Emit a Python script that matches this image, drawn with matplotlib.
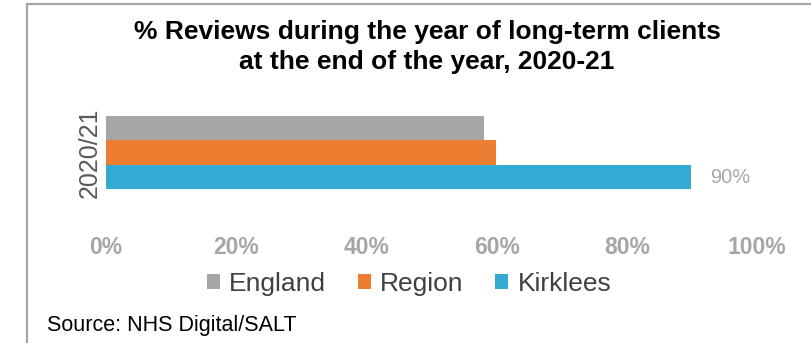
import matplotlib
matplotlib.use("Agg")
import matplotlib.pyplot as plt
from matplotlib.patches import Patch, Rectangle

plt.rcParams['font.family'] = ['Liberation Sans', 'DejaVu Sans']

years = ["2020/21"]
series = ["England", "Region", "Kirklees"]
values = [0.581, 0.599, 0.899]
colours = ["#a5a5a5", "#ed7d31", "#32aad2"]
xticks = [0, 0.2, 0.4, 0.6, 0.8, 1.0]
xtick_labels = ["0%", "20%", "40%", "60%", "80%", "100%"]

W, H = 811, 343
fig = plt.figure(figsize=(W / 100, H / 100), dpi=100)
fig.patch.set_facecolor("white")

# outer chart frame (only left and top are visible in the crop)
fig.patches.append(Rectangle((27 / W, -0.2), 1.2, 1.2 - 4 / H,
                             transform=fig.transFigure, fill=False,
                             edgecolor="#a6a6a6", linewidth=1.6))

ax = fig.add_axes([106 / W, (H - 205) / H, 651 / W, 105 / H])

bar_h = 0.234
offsets = [bar_h, 0, -bar_h]
for name, val, col, off in zip(series, values, colours, offsets):
    ax.barh(0 + off, val, height=bar_h, color=col, label=name)

# data label only on Kirklees
ax.text(values[2] + 0.029, offsets[2], f"{values[2]:.0%}", va="center", ha="left",
        fontsize=14.4, color="#a6a6a6")

ax.set_xlim(0, 1.0)
ax.set_ylim(-0.5, 0.5)
ax.set_xticks(xticks)
ax.set_xticklabels(xtick_labels, fontsize=16.5, fontweight="bold", color="#a6a6a6")
ax.set_yticks([0])
ax.set_yticklabels(years, rotation=90, va="center", fontsize=18, color="#595959")
ax.tick_params(axis="x", length=0, pad=22)
ax.tick_params(axis="y", length=0, pad=3)
for s in ax.spines.values():
    s.set_visible(False)

fig.text(427 / W, 1 - 47 / H, "% Reviews during the year of long-term clients\nat the end of the year, 2020-21",
         ha="center", va="center", fontsize=19, fontweight="bold", color="black",
         linespacing=1.28)

handles = [Patch(facecolor=c, label=n) for n, c in zip(series, colours)]
fig.legend(handles=handles, loc="center", bbox_to_anchor=(409 / W, 1 - 284 / H), ncol=3,
           frameon=False, fontsize=19, labelcolor="#404040", handlelength=0.5,
           handleheight=0.5, handletextpad=0.35, columnspacing=1.2, borderpad=0)

fig.text(47 / W, 1 - 325 / H, "Source: NHS Digital/SALT", ha="left", va="center",
         fontsize=15.5, color="black")

fig.savefig("out.png", dpi=100, facecolor="white")
